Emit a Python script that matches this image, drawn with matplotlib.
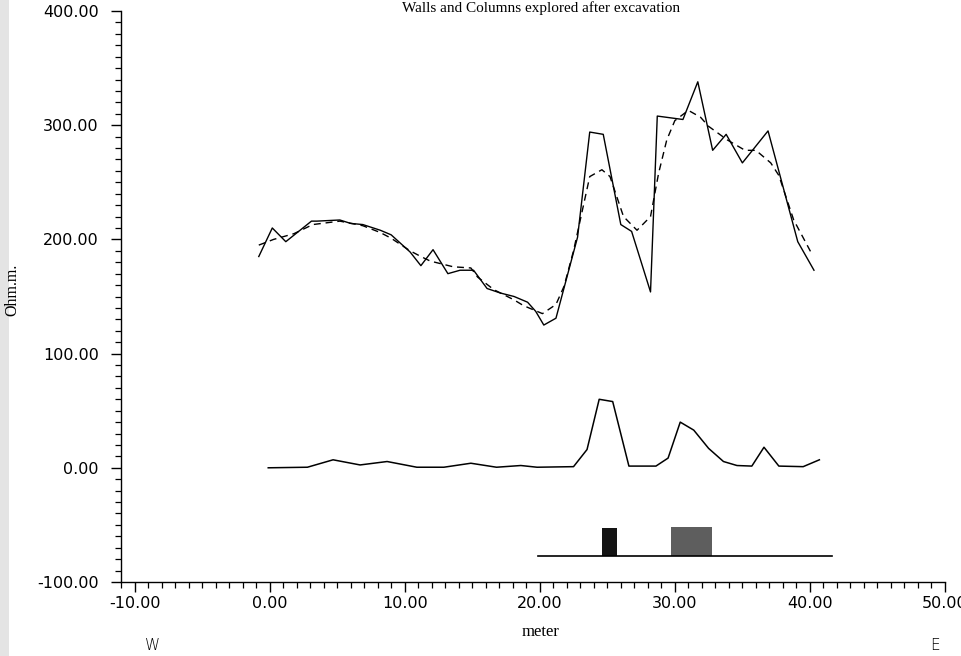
import matplotlib
matplotlib.use('Agg')
import matplotlib.pyplot as plt
from matplotlib.ticker import MultipleLocator, FormatStrFormatter
from matplotlib.patches import Rectangle

# Measured apparent resistivity (solid)
measured_x = [-0.8, 0.2, 1.2, 3.1, 3.5, 5.2, 6.0, 6.9, 8.2, 9.0, 10.4, 11.2, 12.1, 13.2,
              14.1, 15.1, 16.1, 17.1, 18.1, 19.1, 19.7, 20.3, 21.2, 22.8, 23.7, 24.7,
              26.0, 26.8, 28.2, 28.7, 30.6, 31.7, 32.8, 33.8, 35.0, 36.9, 39.1, 40.3]
measured_v = [185, 210, 198, 216, 216, 217, 214, 213, 208, 204, 189, 177, 191, 170,
              173, 173, 157, 153, 150, 145, 137, 125, 131, 202, 294, 292,
              213, 207, 154, 308, 305, 338, 278, 292, 267, 295, 198, 173]

# Smoothed curve (dashed)
smooth_x = [-0.8, 0.3, 1.8, 3.2, 5.2, 6.9, 8.2, 9.0, 10.4, 11.2, 11.9, 13.6, 14.9, 15.4,
            16.6, 18.1, 18.8, 20.2, 21.2, 21.8, 22.5, 23.7, 24.6, 25.2, 26.2, 27.2,
            28.2, 28.8, 29.4, 30.0, 31.0, 31.9, 32.5, 33.9, 35.2, 36.0, 37.1, 37.7,
            38.8, 40.2]
smooth_v = [195, 200, 205, 213, 216, 212, 206, 201, 190, 185, 181, 176, 175, 167,
            156, 147, 142, 135, 143, 159, 190, 255, 261, 255, 220, 208,
            220, 258, 287, 304, 313, 307, 299, 287, 278, 278, 267, 256,
            217, 186]

# Residual / anomaly curve
diff_x = [-0.1, 2.8, 4.7, 6.7, 8.7, 10.9, 12.9, 14.9, 16.8, 18.6, 19.8, 22.5, 23.5,
          24.4, 25.4, 26.6, 28.6, 29.5, 30.4, 31.4, 32.5, 33.6, 34.6, 35.7, 36.6,
          37.7, 39.5, 40.7]
diff_v = [0, 0.5, 7, 2.5, 5.5, 0.5, 0.5, 4, 0.5, 2, 0.5, 1, 16,
          60, 58, 1.5, 1.5, 8.5, 40, 33, 17, 5.5, 2, 1.5, 18,
          1.5, 1, 7]

# Excavation section: ground line and structures (wall, column)
ground_x = [19.9, 41.6]
ground_v = [-77, -77]
struct_left = [24.6, 29.7]
struct_right = [25.75, 32.75]
struct_top = [-52.5, -51.5]
struct_colors = ['#141414', '#5e5e5e']

fig = plt.figure(figsize=(9.62, 6.56), dpi=100)
fig.patches.append(Rectangle((0, 0), 9 / 962, 1, transform=fig.transFigure,
                             facecolor='#e4e4e4', edgecolor='none', zorder=0))

ax = fig.add_axes([121 / 962, 1 - 582 / 656, (945 - 121) / 962, (582 - 11) / 656])

ax.plot(measured_x, measured_v, color='black', lw=1.0)
ax.plot(smooth_x, smooth_v, color='black', lw=1.0, ls=(0, (5, 3.5)))
ax.plot(diff_x, diff_v, color='black', lw=1.1)
ax.plot(ground_x, ground_v, color='black', lw=1.2)
for xl, xr, top, c in zip(struct_left, struct_right, struct_top, struct_colors):
    ax.add_patch(Rectangle((xl, ground_v[0]), xr - xl, top - ground_v[0],
                           facecolor=c, edgecolor='none'))

ax.set_xlim(-11, 50)
ax.set_ylim(-100, 400)
for s in ['top', 'right']:
    ax.spines[s].set_visible(False)
for s in ['left', 'bottom']:
    ax.spines[s].set_linewidth(1.0)

ax.xaxis.set_major_locator(MultipleLocator(10))
ax.xaxis.set_minor_locator(MultipleLocator(1))
ax.yaxis.set_major_locator(MultipleLocator(100))
ax.yaxis.set_minor_locator(MultipleLocator(10))
ax.xaxis.set_major_formatter(FormatStrFormatter('%.2f'))
ax.yaxis.set_major_formatter(FormatStrFormatter('%.2f'))

ax.tick_params(axis='both', which='major', direction='out', length=7, width=1.0,
               labelsize=11.5, colors='black')
ax.tick_params(axis='both', which='minor', direction='out', length=4, width=0.9)
ax.tick_params(axis='x', which='major', pad=3)
ax.tick_params(axis='y', which='major', pad=9)

fig.text(541 / 962, 1 - 8 / 656, 'Walls and Columns explored after excavation',
         ha='center', va='center', family='Liberation Serif', fontsize=11)
fig.text(12 / 962, 1 - 290 / 656, 'Ohm.m.', rotation=90, ha='center', va='center',
         family='Liberation Serif', fontsize=11.5)
fig.text(541 / 962, 1 - 632 / 656, 'meter', ha='center', va='center',
         family='Liberation Serif', fontsize=12)
fig.text(152 / 962, 1 - 646 / 656, 'W', ha='center', va='center',
         family='DejaVu Sans', fontsize=11, fontweight='light')
fig.text(935 / 962, 1 - 645 / 656, 'E', ha='center', va='center',
         family='DejaVu Sans', fontsize=11, fontweight='light')

fig.savefig('out.png', dpi=100)
